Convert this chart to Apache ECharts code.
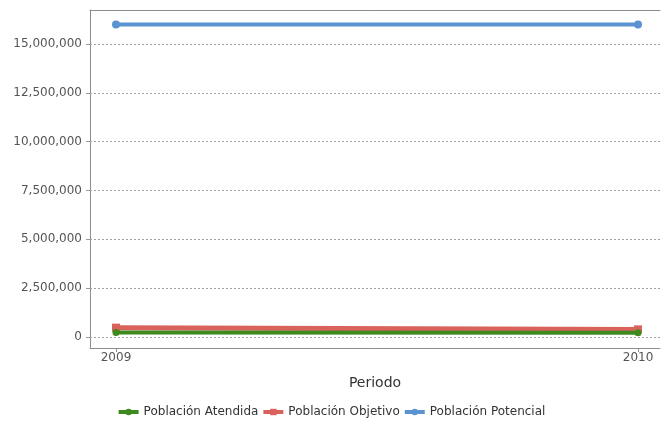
<!DOCTYPE html>
<html><head><meta charset="utf-8">
<script src="https://cdn.jsdelivr.net/npm/echarts@6/dist/echarts.min.js"></script>
<style>html,body{margin:0;padding:0;background:#fff}#c{width:662px;height:421px}</style>
</head><body><div id="c"></div>
<script>
const years = [2009, 2010];
const atendida = [230000, 220000];
const objetivo = [480000, 390000];
const potencial = [16000000, 16000000];
const yTicks = [0, 2500000, 5000000, 7500000, 10000000, 12500000, 15000000];
const seriesNames = ['Población Atendida', 'Población Objetivo', 'Población Potencial'];
const xTitle = 'Periodo';

const font = 'DejaVu Sans';
const chart = echarts.init(document.getElementById('c'), null, {renderer: 'canvas'});
const pair = (arr) => years.map((y, i) => [y, arr[i]]);
const xMin = 2008.9502, xMax = 2010.0421;
chart.setOption({
  animation: false,
  textStyle: {fontFamily: font},
  grid: {left: 90, right: 2, top: 10, bottom: 73, containLabel: false},
  legend: {
    top: 401, left: 'center', itemWidth: 20, itemHeight: 8, itemGap: 3,
    lineStyle: {width: 4},
    textStyle: {fontFamily: font, fontSize: 12, color: '#333'},
    data: seriesNames
  },
  xAxis: [{
    type: 'value', min: xMin, max: xMax,
    name: xTitle, nameLocation: 'middle', nameGap: 28,
    nameTextStyle: {fontFamily: font, fontSize: 14, color: '#333', fontWeight: 500},
    axisLine: {show: true, onZero: false, lineStyle: {color: '#8c8c8c'}},
    axisTick: {show: true, length: 4, lineStyle: {color: '#8c8c8c'}, customValues: years},
    axisLabel: {customValues: years, color: '#555', fontSize: 12, fontFamily: font, margin: 4, formatter: v => String(v)},
    splitLine: {show: false}
  }, {
    type: 'value', min: xMin, max: xMax, position: 'top',
    axisLine: {show: true, onZero: false, lineStyle: {color: '#8c8c8c'}},
    axisTick: {show: false}, axisLabel: {show: false}, splitLine: {show: false}
  }],
  yAxis: {
    type: 'value', min: -563000, max: 16742000,
    axisLine: {show: true, onZero: false, lineStyle: {color: '#8c8c8c'}},
    axisTick: {show: true, length: 4, lineStyle: {color: '#999'}, customValues: yTicks},
    axisLabel: {customValues: yTicks, color: '#555', fontSize: 12, fontFamily: font, margin: 8,
      formatter: v => Math.round(v).toLocaleString('en-US')},
    splitLine: {show: false}
  },
  series: [
    {name: seriesNames[0], type: 'line', data: pair(atendida), color: '#3f8a1f',
     symbol: 'circle', symbolSize: 7, lineStyle: {width: 4}, z: 4,
     markLine: {silent: true, symbol: 'none', label: {show: false}, animation: false,
       lineStyle: {type: [2, 2], color: '#a0a0a0', width: 1},
       data: yTicks.map(v => ({yAxis: v}))}},
    {name: seriesNames[1], type: 'line', data: pair(objetivo), color: '#d9625b',
     symbol: 'rect', symbolSize: 8, lineStyle: {width: 5}, z: 3},
    {name: seriesNames[2], type: 'line', data: pair(potencial), color: '#5b92d0',
     symbol: 'circle', symbolSize: 8, lineStyle: {width: 4}, z: 3}
  ]
});
</script></body></html>
